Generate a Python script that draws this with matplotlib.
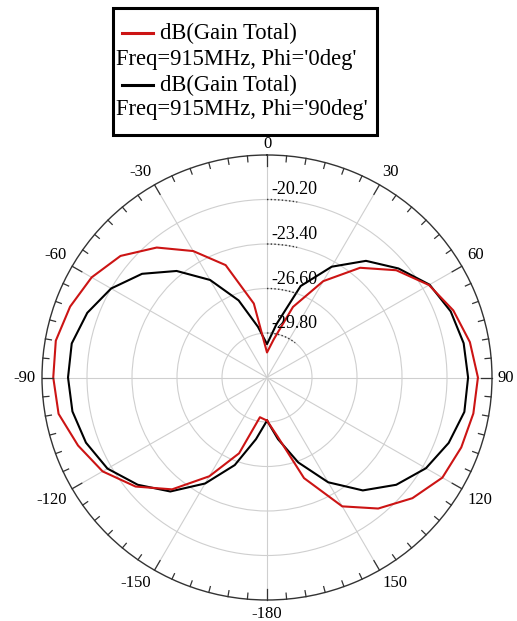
import numpy as np
import matplotlib
matplotlib.use('Agg')
import matplotlib.pyplot as plt
from matplotlib.lines import Line2D
from matplotlib.patches import Rectangle
from matplotlib.transforms import offset_copy

# 角度 (deg) 与增益 (dB)
angles = [-180, -170, -160, -150, -140, -130, -120, -110, -100, -90, -80, -70, -60, -50, -40, -30, -20, -10,
          0, 10, 20, 30, 40, 50, 60, 70, 80, 90, 100, 110, 120, 130, 140, 150, 160, 170, 180]
gain_phi0 = [-29.9, -30.1, -27.2, -24.8, -22.5, -20.8, -19.5, -18.7, -17.95, -17.8, -17.75, -18.1, -18.6, -19.4,
             -20.8, -22.5, -24.4, -27.6, -31.2, -30.2, -27.6, -25.0, -22.7, -21.0, -19.7, -18.9, -18.35, -18.0,
             -18.1, -18.3, -18.6, -19.5, -20.7, -22.3, -25.3, -28.7, -29.9]
gain_phi90 = [-29.9, -28.5, -26.3, -24.2, -22.3, -21.0, -19.9, -19.3, -18.95, -18.85, -18.9, -19.4, -20.2, -21.4,
              -23.0, -24.9, -27.1, -29.3, -30.6, -29.1, -26.0, -23.8, -22.05, -20.8, -19.65, -19.1, -18.8, -18.7,
              -18.75, -19.25, -19.95, -21.0, -22.4, -24.3, -26.5, -28.5, -29.9]

r_ticks = [-29.8, -26.6, -23.4, -20.2]
r_tick_labels = ['-29.80', '-26.60', '-23.40', '-20.20']
r_min, r_max = -33.0, -17.0
theta_ticks = [0, 30, 60, 90, 120, 150, 180, 210, 240, 270, 300, 330]
theta_labels = ['0', '30', '60', '90', '120', '150', '-180', '-150', '-120', '-90', '-60', '-30']

legend_names = ['dB(Gain Total)', 'dB(Gain Total)']
legend_subs = ["Freq=915MHz, Phi='0deg'", "Freq=915MHz, Phi='90deg'"]
colors = ['#cc1414', 'black']

serif = ['Liberation Serif', 'DejaVu Serif']

fig = plt.figure(figsize=(5.17, 6.21), dpi=100)
ax = fig.add_axes([42 / 517, 21 / 621, 450 / 517, 445 / 621], projection='polar')
ax.set_aspect('auto')
ax.set_theta_zero_location('N')
ax.set_theta_direction(-1)
ax.set_rlim(r_min, r_max)

th = np.deg2rad(angles)
ax.plot(th, gain_phi90, color=colors[1], lw=1.5, zorder=3)
ax.plot(th, gain_phi0, color=colors[0], lw=1.5, zorder=4)

# 网格
ax.set_rgrids(r_ticks, labels=[''] * len(r_ticks))
ax.set_thetagrids(theta_ticks, labels=[''] * len(theta_ticks))
ax.grid(color='#cfcfcf', lw=0.8)
ax.tick_params(axis='x', length=0)
ax.spines['polar'].set_color('#333333')
ax.spines['polar'].set_linewidth(1.0)

# 角度标签
for a, lab in zip(theta_ticks, theta_labels):
    t = np.deg2rad(a)
    s, c = np.sin(t), np.cos(t)
    ha = 'left' if s > 0.3 else ('right' if s < -0.3 else 'center')
    va = 'bottom' if c > 0.3 else ('top' if c < -0.3 else 'center')
    gap = 3 if a == 0 else 6
    tr = offset_copy(ax.transData, fig=fig, x=gap * s, y=gap * c, units='dots')
    ax.text(t, r_max, lab, transform=tr, ha=ha, va=va, fontsize=12, fontfamily=serif)

# 外圈刻度
rng = r_max - r_min
for a in range(0, 360, 5):
    t = np.deg2rad(a)
    L = 11 if a % 30 == 0 else 6
    ax.plot([t, t], [r_max, r_max - L * rng / 222], color='#333333', lw=0.9, clip_on=False, zorder=5)

# 径向标签
for v, lab in zip(r_ticks, r_tick_labels):
    rpx = (v - r_min) / rng * 222
    span = 30 / rpx
    tt = np.linspace(0, span, 20)
    ax.plot(tt, [v] * len(tt), ls=':', color='#333333', lw=1.0, zorder=5)
    tr = offset_copy(ax.transData, fig=fig, x=4, y=1, units='dots')
    ax.text(0, v, lab, transform=tr, ha='left', va='bottom', fontsize=13, fontfamily=serif, zorder=6)

# 图例
fig.patches.append(Rectangle((113 / 517, 1 - 135 / 621), (377 - 113) / 517, (135 - 8) / 621,
                             transform=fig.transFigure, fill=False, ec='black', lw=2.2))
rows = [(33, 60), (85, 110)]
for (y1, y2), name, sub, c in zip(rows, legend_names, legend_subs, colors):
    fig.lines.append(Line2D([122 / 517, 153 / 517], [1 - y1 / 621] * 2, transform=fig.transFigure, color=c, lw=2.2))
    fig.text(160 / 517, 1 - y1 / 621, name, ha='left', va='center', fontsize=16.3, fontfamily=serif)
    fig.text(116 / 517, 1 - y2 / 621, sub, ha='left', va='center', fontsize=16.3, fontfamily=serif)

fig.savefig('out.png', dpi=100)
